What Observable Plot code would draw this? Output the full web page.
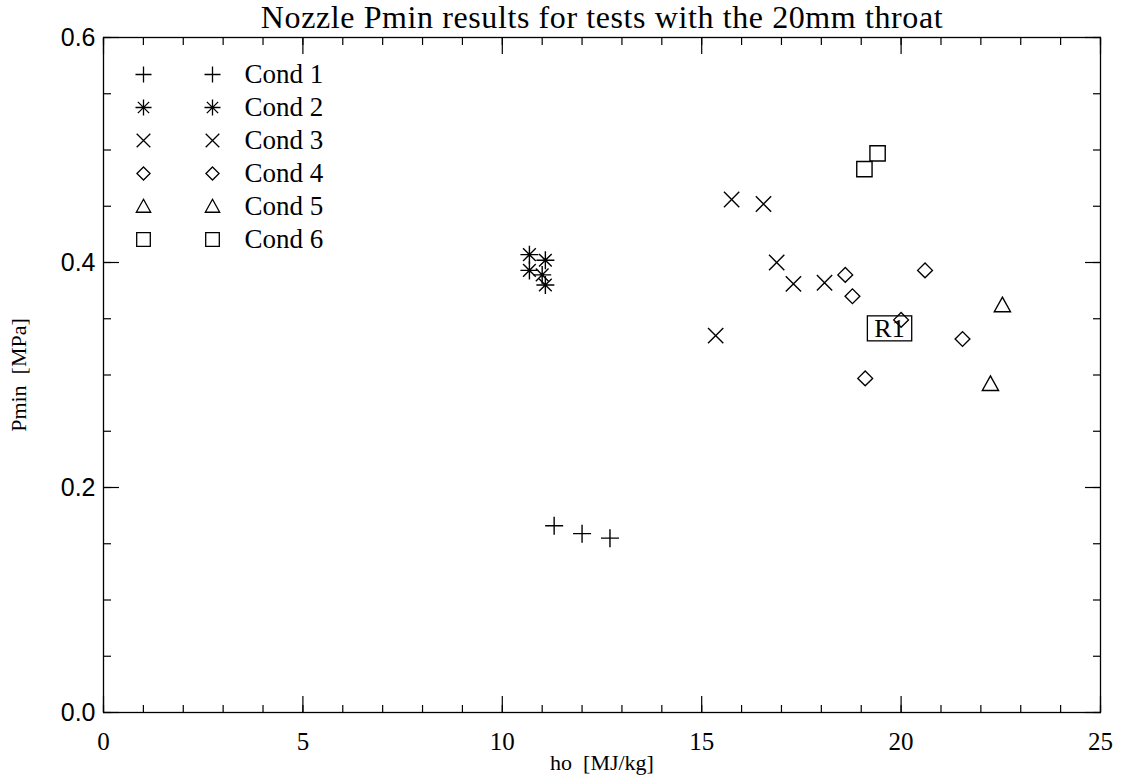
<!DOCTYPE html>
<html>
<head>
<meta charset="utf-8">
<script src="https://cdn.jsdelivr.net/npm/d3@7"></script>
<script src="https://cdn.jsdelivr.net/npm/@observablehq/plot@0.6"></script>
<style>
  html, body { margin: 0; padding: 0; background: #fff; }
  #wrap { position: relative; width: 1132px; height: 777px; }
  #legend { position: absolute; left: 120px; top: 55px; width: 220px; height: 202px; }
  #legend svg { max-width: none !important; }
  svg { font-family: "Liberation Serif", "Times New Roman", serif; }
  g.ttl text { letter-spacing: 0.6px; }
</style>
</head>
<body>
<div id="wrap"><div id="chart"></div><div id="legend"></div></div>
<script>
// ---- Data ----
const conditions = ["Cond 1", "Cond 2", "Cond 3", "Cond 4", "Cond 5", "Cond 6"];
const cond1_ho   = [11.3, 12.0, 12.7];
const cond1_pmin = [0.166, 0.159, 0.155];
const cond2_ho   = [10.68, 11.08, 10.68, 11.0, 11.08];
const cond2_pmin = [0.407, 0.402, 0.393, 0.389, 0.380];
const cond3_ho   = [15.75, 16.55, 16.88, 17.3, 18.08, 15.35];
const cond3_pmin = [0.456, 0.452, 0.400, 0.381, 0.382, 0.335];
const cond4_ho   = [18.6, 18.78, 20.6, 20.0, 21.54, 19.1];
const cond4_pmin = [0.389, 0.370, 0.393, 0.349, 0.332, 0.297];
const cond5_ho   = [22.54, 22.24];
const cond5_pmin = [0.362, 0.292];
const cond6_ho   = [19.41, 19.08];
const cond6_pmin = [0.497, 0.483];
const annotation = {label: "R1", ho: 19.71, pmin: 0.3413};
const xMajor = [0, 5, 10, 15, 20, 25];
const xMinor = d3.range(0, 26, 1);
const yMajor = [0.0, 0.2, 0.4, 0.6];
const yMinor = d3.range(0, 0.6001, 0.05);
const title = "Nozzle Pmin results for tests with the 20mm throat";
const xLabel = "ho  [MJ/kg]";
const yLabel = "Pmin  [MPa]";

// ---- Custom stroke symbols (size -> radius) ----
const R = s => Math.sqrt(s / Math.PI);
const symPlus = {draw(c, s) { const r = R(s); c.moveTo(-r, 0); c.lineTo(r, 0); c.moveTo(0, -r); c.lineTo(0, r); }};
const symAst = {draw(c, s) { const r = R(s), d = r * Math.SQRT1_2;
  c.moveTo(-r, 0); c.lineTo(r, 0); c.moveTo(0, -r); c.lineTo(0, r);
  c.moveTo(-d, -d); c.lineTo(d, d); c.moveTo(-d, d); c.lineTo(d, -d); }};
const symTimes = {draw(c, s) { const r = R(s) * 0.85;
  c.moveTo(-r, -r); c.lineTo(r, r); c.moveTo(-r, r); c.lineTo(r, -r); }};
const symDiamond = {draw(c, s) { const r = R(s) * 0.82;
  c.moveTo(0, -r); c.lineTo(r, 0); c.lineTo(0, r); c.lineTo(-r, 0); c.closePath(); }};
const symTri = {draw(c, s) { const r = R(s) * 0.9;
  c.moveTo(0, -r); c.lineTo(r, r * 0.8); c.lineTo(-r, r * 0.8); c.closePath(); }};
const symSquare = {draw(c, s) { const r = R(s) * 0.85;
  c.moveTo(-r, -r); c.lineTo(r, -r); c.lineTo(r, r); c.lineTo(-r, r); c.closePath(); }};
const symbols = [symPlus, symAst, symTimes, symDiamond, symTri, symSquare];

const series = [
  [cond1_ho, cond1_pmin], [cond2_ho, cond2_pmin], [cond3_ho, cond3_pmin],
  [cond4_ho, cond4_pmin], [cond5_ho, cond5_pmin], [cond6_ho, cond6_pmin]
];
const points = series.flatMap(([xs, ys], i) => xs.map((x, j) => ({cond: conditions[i], i, ho: x, pmin: ys[j]})));

const tickStyle = {stroke: "black", strokeWidth: 1.2, text: null, label: null};
const serif = "'Liberation Serif', 'Times New Roman', serif";
const sans = "'Liberation Sans', Arial, sans-serif";

const chart = Plot.plot({
  width: 1132,
  height: 777,
  marginLeft: 103,
  marginRight: 32,
  marginTop: 37,
  marginBottom: 65,
  style: {fontFamily: serif, background: "white"},
  x: {domain: [0, 25], axis: null},
  y: {domain: [0, 0.6], axis: null},
  marks: [
    Plot.frame({stroke: "black", strokeWidth: 1.3}),
    // inward ticks on all four sides
    Plot.axisX({anchor: "bottom", ticks: xMajor, tickSize: -16, ...tickStyle}),
    Plot.axisX({anchor: "top", ticks: xMajor, tickSize: -16, ...tickStyle}),
    Plot.axisX({anchor: "bottom", ticks: xMinor, tickSize: -7, ...tickStyle}),
    Plot.axisX({anchor: "top", ticks: xMinor, tickSize: -7, ...tickStyle}),
    Plot.axisY({anchor: "left", ticks: yMajor, tickSize: -16, ...tickStyle}),
    Plot.axisY({anchor: "right", ticks: yMajor, tickSize: -16, ...tickStyle}),
    Plot.axisY({anchor: "left", ticks: yMinor, tickSize: -8, ...tickStyle}),
    Plot.axisY({anchor: "right", ticks: yMinor, tickSize: -8, ...tickStyle}),
    // tick labels and axis titles
    Plot.text(xMajor, {x: d => d, frameAnchor: "bottom", lineAnchor: "middle", textAnchor: "middle", dy: 29,
      text: d => String(d), fontSize: 25, fontFamily: serif, fill: "black"}),
    Plot.text(yMajor, {y: d => d, frameAnchor: "left", lineAnchor: "middle", textAnchor: "end", dx: -8,
      text: d3.format(".1f"), fontSize: 25, fontFamily: sans, fill: "black"}),
    Plot.text([xLabel], {frameAnchor: "bottom", lineAnchor: "middle", textAnchor: "middle", dy: 50,
      text: d => d, fontSize: 22, fontFamily: serif, fill: "black"}),
    Plot.text([yLabel], {frameAnchor: "left", lineAnchor: "middle", textAnchor: "middle", dx: -85, rotate: -90,
      text: d => d, fontSize: 22, fontFamily: serif, fill: "black"}),
    // data
    Plot.dot(points, {x: "ho", y: "pmin", symbol: d => symbols[d.i], r: 9,
      stroke: "black", strokeWidth: 1.4, fill: "none"}),
    // annotation
    Plot.text([annotation], {x: "ho", y: "pmin", text: "label", fontSize: 26, fill: "black",
      fontFamily: serif, className: "annot"}),
    // title
    Plot.text([title], {frameAnchor: "top", lineAnchor: "middle", textAnchor: "middle", dy: -20,
      fontSize: 32, fill: "black", text: d => d, fontFamily: serif, className: "ttl"})
  ]
});
document.getElementById("chart").appendChild(chart);

// box round annotation
d3.select(chart).selectAll("g.annot text").each(function() {
  const b = this.getBBox();
  d3.select(this.parentNode).insert("rect", "text")
    .attr("transform", this.getAttribute("transform"))
    .attr("x", b.x - 7).attr("y", b.y + 2).attr("width", b.width + 14).attr("height", b.height - 4)
    .attr("fill", "none").attr("stroke", "black").attr("stroke-width", 1.3);
});

// ---- Legend (two symbol columns + label) ----
const legendData = conditions.flatMap((c, i) => [
  {col: "a", cond: c, i}, {col: "b", cond: c, i}
]);
const legend = Plot.plot({
  width: 220, height: 202,
  marginLeft: 23, marginRight: 128, marginTop: 17, marginBottom: 17,
  style: {fontFamily: serif, background: "transparent", overflow: "visible"},
  x: {type: "point", domain: ["a", "b"], axis: null, padding: 0},
  y: {type: "point", domain: conditions, axis: null, padding: 0},
  marks: [
    Plot.dot(legendData, {x: "col", y: "cond", symbol: d => symbols[d.i], r: 8,
      stroke: "black", strokeWidth: 1.3, fill: "none"}),
    Plot.text(conditions, {x: () => "b", y: d => d, text: d => d, dx: 32, textAnchor: "start",
      fontSize: 27, fill: "black", fontFamily: serif})
  ]
});
document.getElementById("legend").appendChild(legend);
</script>
</body>
</html>
